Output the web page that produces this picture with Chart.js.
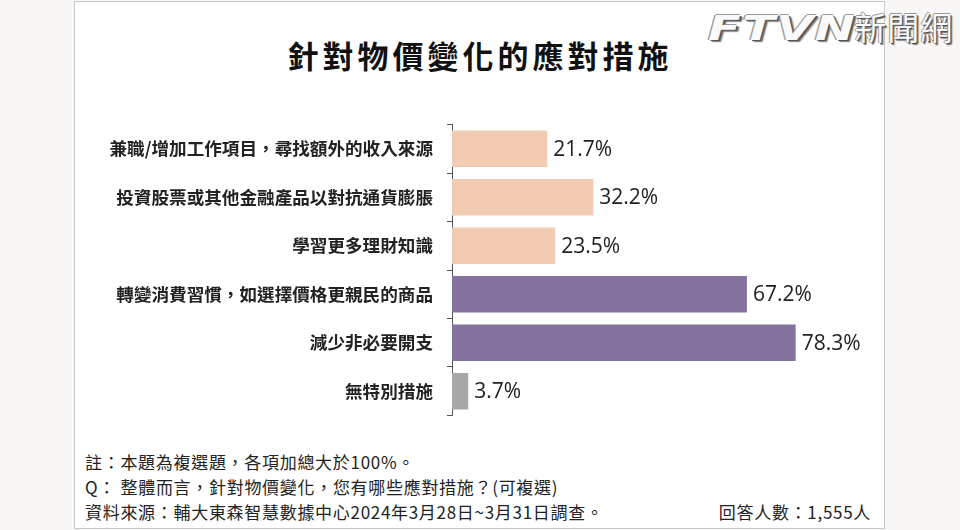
<!DOCTYPE html>
<html lang="zh-TW">
<head>
<meta charset="utf-8">
<script src="https://cdn.jsdelivr.net/npm/chart.js@4"></script>
<style>
  body { margin: 0; width: 960px; height: 530px; background: #f8f7f5; overflow: hidden; font-family: "Noto Sans CJK TC", sans-serif; }
  #card { position: absolute; left: 74px; top: 1px; width: 809px; height: 526px; background: #fff; border: 1px solid #c8c8c8; }
  #title { position: absolute; left: 0; top: 35px; width: 960px; text-align: center; font-size: 31px; font-weight: 700; letter-spacing: 4px; color: #111; line-height: 40px; }
  #logo { position: absolute; left: 708px; top: 7px; width: 250px; white-space: nowrap; font-size: 32px; font-weight: 700; color: #fafafa;
          text-shadow: 1px 1px 0 #555, -1px 0 0 #999, 0 -1px 0 #999, 2px 2px 1px #777; line-height: 38px; }
  #logo .f { display: inline-block; font-family: "DejaVu Sans", sans-serif; font-style: italic; font-size: 33px; letter-spacing: 1px;
             transform: scaleX(1.45); transform-origin: left center; margin-right: 44px; }
  #logo .c { font-weight: 400; letter-spacing: 1px; }
  .note { position: absolute; left: 85px; font-size: 17px; color: #222; letter-spacing: 0.7px; line-height: 24px; }
  #count { position: absolute; right: 89px; top: 500px; font-size: 17px; color: #222; letter-spacing: 0.7px; line-height: 24px; }
  #myChart { position: absolute; left: 74px; top: 100px; }
</style>
</head>
<body>
<div id="card"></div>
<div id="logo"><span class="f">FTVN</span><span class="c">新聞網</span></div>
<div id="title">針對物價變化的應對措施</div>
<canvas id="myChart" width="810" height="340"></canvas>
<div class="note" style="top:450px">註：本題為複選題，各項加總大於100%。</div>
<div class="note" style="top:475px">Q： 整體而言，針對物價變化，您有哪些應對措施？(可複選)</div>
<div class="note" style="top:500px">資料來源：輔大東森智慧數據中心2024年3月28日~3月31日調查。</div>
<div id="count">回答人數：1,555人</div>
<script>
const categorias = [
  "兼職/增加工作項目，尋找額外的收入來源",
  "投資股票或其他金融產品以對抗通貨膨脹",
  "學習更多理財知識",
  "轉變消費習慣，如選擇價格更親民的商品",
  "減少非必要開支",
  "無特別措施",
];
const porcentajes = [21.7, 32.2, 23.5, 67.2, 78.3, 3.7];
const barColors = ["#f2cbb3", "#f2cbb3", "#f2cbb3", "#85729f", "#85729f", "#a8a8a8"];

const etiquetasValor = {
  id: "etiquetasValor",
  afterDatasetsDraw: (chart) => {
    const ctx = chart.ctx;
    const meta = chart.getDatasetMeta(0);
    ctx.save();
    ctx.font = '21px "Open Sans", sans-serif';
    ctx.fillStyle = "#222";
    ctx.textAlign = "left";
    ctx.textBaseline = "middle";
    meta.data.forEach((bar, i) => {
      ctx.fillText(porcentajes[i].toFixed(1) + "%", bar.x + 6, bar.y + 1);
    });
    ctx.restore();
  },
};

const config = {
  type: "bar",
  data: {
    labels: categorias,
    datasets: [
      {
        data: porcentajes,
        backgroundColor: barColors,
        barPercentage: 0.75,
        categoryPercentage: 1,
      },
    ],
  },
  options: {
    indexAxis: "y",
    responsive: false,
    animation: false,
    devicePixelRatio: 1,
    layout: { padding: { top: 14, bottom: 15, right: 37, left: 0 } },
    plugins: { legend: { display: false }, tooltip: { enabled: false } },
    scales: {
      x: { display: false, min: 0, max: 90 },
      y: {
        afterFit: (scale) => { scale.width = 378; },
        border: { display: true, color: "#555", width: 1 },
        grid: { drawOnChartArea: false, drawTicks: true, tickLength: 5, color: "#555", offset: true },
        ticks: {
          color: "#222",
          padding: 14,
          font: { family: '"Noto Sans CJK TC", sans-serif', size: 17.6, weight: "bold" },
        },
      },
    },
  },
  plugins: [etiquetasValor],
};

const myChart = new Chart(document.querySelector("#myChart"), config);
</script>
</body>
</html>
